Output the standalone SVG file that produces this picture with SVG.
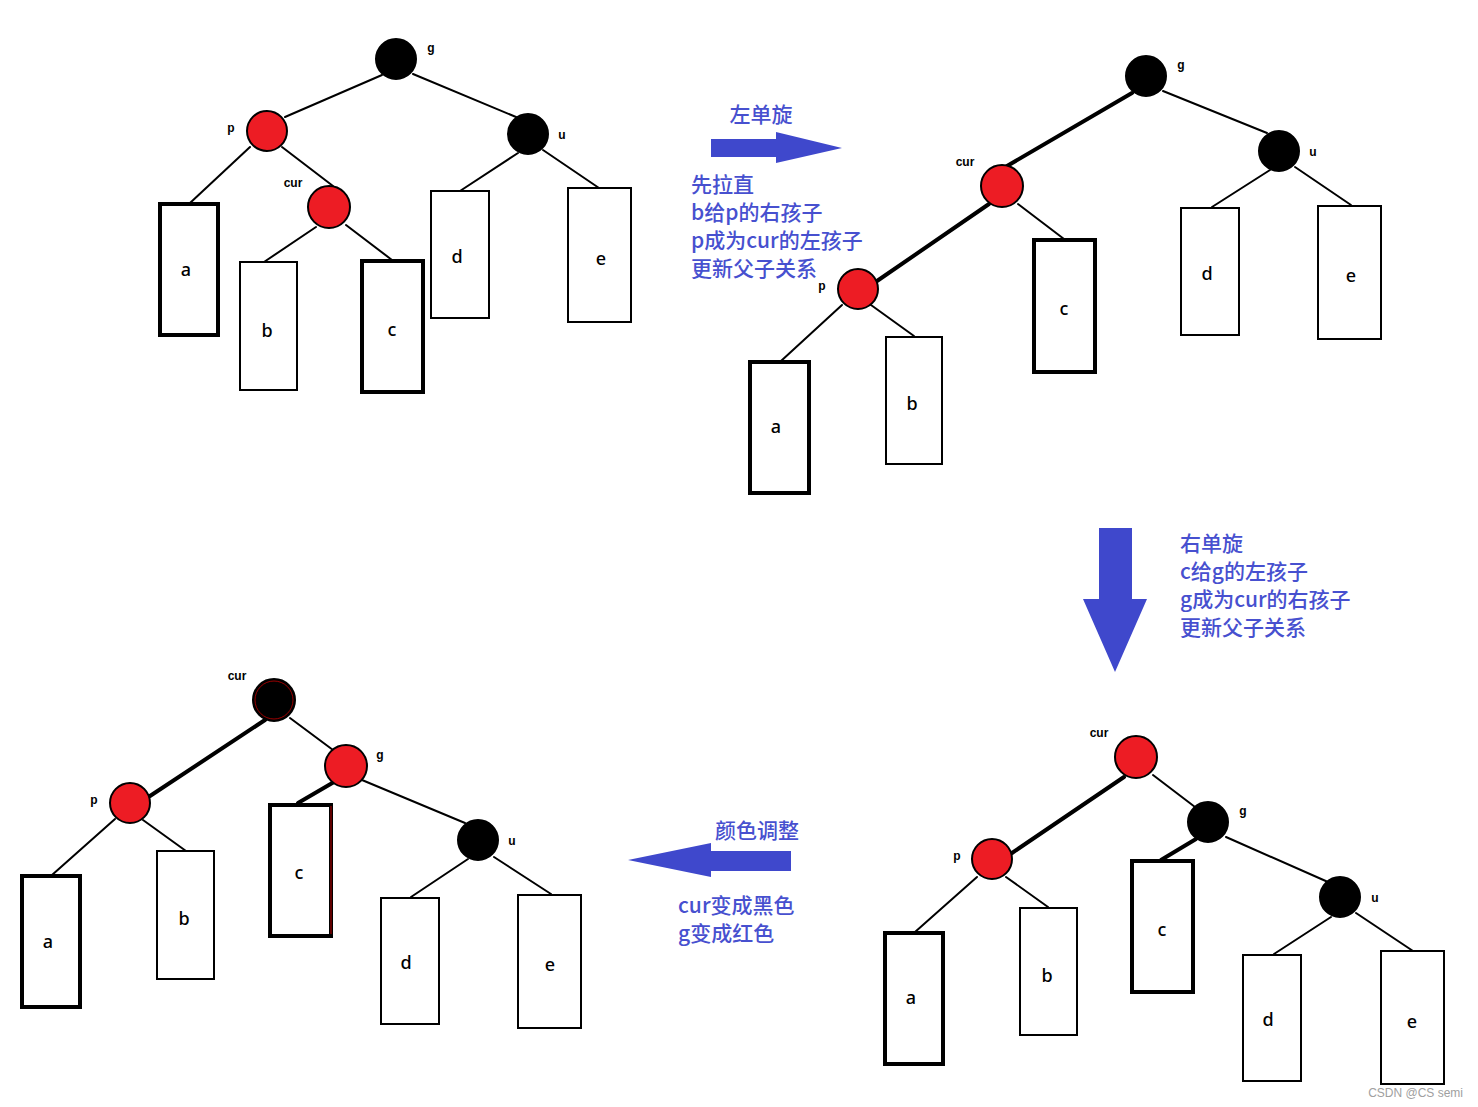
<svg xmlns="http://www.w3.org/2000/svg" width="1478" height="1107" viewBox="0 0 1478 1107">
<style>
.bg{fill:#fff}
.ln{stroke:#000;stroke-width:2;fill:none;stroke-linecap:round}
.thk{stroke:#000;stroke-width:4;fill:none;stroke-linecap:round}
.red{fill:#ed1c24;stroke:#000;stroke-width:2}
.blk{fill:#000;stroke:#000;stroke-width:2}
.bx{fill:#fff;stroke:#000;stroke-width:2}
.bxt{fill:#fff;stroke:#000;stroke-width:4}
.lt{font-family:"Noto Sans","DejaVu Sans",sans-serif;font-size:18px;font-weight:500;fill:#000;text-anchor:middle;dominant-baseline:central}
.nl{font-family:"Liberation Sans","DejaVu Sans",sans-serif;font-size:12px;font-weight:bold;fill:#000;text-anchor:middle;dominant-baseline:central}
.bt{font-family:"Noto Sans CJK SC","Noto Sans",sans-serif;font-size:21px;font-weight:500;fill:#4750cf;dominant-baseline:central}
.ar{fill:#3f48cc}
.wm{font-family:"Liberation Sans","DejaVu Sans",sans-serif;font-size:12px;fill:#a0a0a0}
</style>
<rect class="bg" x="0" y="0" width="1478" height="1107"/>

<g id="connectors">
<!-- top-left -->
<line class="ln" x1="382" y1="75" x2="285" y2="117"/>
<line class="ln" x1="413" y1="74" x2="516" y2="117"/>
<line class="ln" x1="250" y1="147" x2="190" y2="203"/>
<line class="ln" x1="282" y1="147" x2="333" y2="186"/>
<line class="ln" x1="316" y1="227" x2="264" y2="262"/>
<line class="ln" x1="346" y1="225" x2="392" y2="260"/>
<line class="ln" x1="518" y1="153" x2="460" y2="191"/>
<line class="ln" x1="543" y1="150" x2="599" y2="188"/>
<!-- top-right -->
<line class="thk" x1="1132" y1="93" x2="1007" y2="166"/>
<line class="thk" x1="989" y1="204" x2="877" y2="281"/>
<line class="ln" x1="1018" y1="204" x2="1064" y2="239"/>
<line class="ln" x1="842" y1="305" x2="781" y2="361"/>
<line class="ln" x1="871" y1="305" x2="914" y2="336"/>
<line class="ln" x1="1163" y1="91" x2="1267" y2="133"/>
<line class="ln" x1="1270" y1="170" x2="1212" y2="207"/>
<line class="ln" x1="1295" y1="167" x2="1351" y2="205"/>
<!-- bottom-left -->
<line class="thk" x1="265" y1="720" x2="150" y2="796"/>
<line class="ln" x1="290" y1="718" x2="333" y2="750"/>
<line class="thk" x1="334" y1="782" x2="298" y2="803"/>
<line class="ln" x1="362" y1="780" x2="465" y2="823"/>
<line class="ln" x1="115" y1="819" x2="52" y2="875"/>
<line class="ln" x1="143" y1="820" x2="186" y2="851"/>
<line class="ln" x1="468" y1="859" x2="411" y2="897"/>
<line class="ln" x1="494" y1="857" x2="551" y2="894"/>
<!-- bottom-right -->
<line class="thk" x1="1124" y1="777" x2="1012" y2="853"/>
<line class="ln" x1="1153" y1="775" x2="1195" y2="807"/>
<line class="thk" x1="1196" y1="839" x2="1161" y2="860"/>
<line class="ln" x1="1226" y1="837" x2="1328" y2="882"/>
<line class="ln" x1="977" y1="877" x2="915" y2="932"/>
<line class="ln" x1="1006" y1="877" x2="1048" y2="907"/>
<line class="ln" x1="1331" y1="917" x2="1274" y2="954"/>
<line class="ln" x1="1356" y1="913" x2="1413" y2="951"/>
</g>

<!-- top-left tree -->
<g id="tl-g"><circle class="blk" cx="396" cy="59" r="20"/><text class="nl" x="431" y="48">g</text></g>
<g id="tl-p"><circle class="red" cx="267" cy="131" r="20"/><text class="nl" x="231" y="128">p</text></g>
<g id="tl-u"><circle class="blk" cx="528" cy="134" r="20"/><text class="nl" x="562" y="135">u</text></g>
<g id="tl-cur"><circle class="red" cx="329" cy="207" r="21"/><text class="nl" x="293" y="183">cur</text></g>
<g id="tl-a"><rect class="bxt" x="160" y="204" width="58" height="131"/><text class="lt" x="186" y="269">a</text></g>
<g id="tl-b"><rect class="bx" x="240" y="262" width="57" height="128"/><text class="lt" x="267" y="330">b</text></g>
<g id="tl-c"><rect class="bxt" x="362" y="261" width="61" height="131"/><text class="lt" x="392" y="329">c</text></g>
<g id="tl-d"><rect class="bx" x="431" y="191" width="58" height="127"/><text class="lt" x="457" y="256">d</text></g>
<g id="tl-e"><rect class="bx" x="568" y="188" width="63" height="134"/><text class="lt" x="601" y="258">e</text></g>

<!-- top-right tree -->
<g id="tr-g"><circle class="blk" cx="1146" cy="76" r="20"/><text class="nl" x="1181" y="65">g</text></g>
<g id="tr-u"><circle class="blk" cx="1279" cy="151" r="20"/><text class="nl" x="1313" y="152">u</text></g>
<g id="tr-cur"><circle class="red" cx="1002" cy="186" r="21"/><text class="nl" x="965" y="162">cur</text></g>
<g id="tr-p"><circle class="red" cx="858" cy="289" r="20"/><text class="nl" x="822" y="286">p</text></g>
<g id="tr-a"><rect class="bxt" x="750" y="362" width="59" height="131"/><text class="lt" x="776" y="426">a</text></g>
<g id="tr-b"><rect class="bx" x="886" y="337" width="56" height="127"/><text class="lt" x="912" y="403">b</text></g>
<g id="tr-c"><rect class="bxt" x="1034" y="240" width="61" height="132"/><text class="lt" x="1064" y="308">c</text></g>
<g id="tr-d"><rect class="bx" x="1181" y="208" width="58" height="127"/><text class="lt" x="1207" y="273">d</text></g>
<g id="tr-e"><rect class="bx" x="1318" y="206" width="63" height="133"/><text class="lt" x="1351" y="275">e</text></g>

<!-- bottom-left tree -->
<g id="bl-cur"><circle class="blk" cx="274" cy="700" r="21"/><circle cx="274" cy="700" r="19" fill="none" stroke="#c00000" stroke-width="0.8"/><text class="nl" x="237" y="676">cur</text></g>
<g id="bl-g"><circle class="red" cx="346" cy="766" r="21"/><text class="nl" x="380" y="755">g</text></g>
<g id="bl-p"><circle class="red" cx="130" cy="803" r="20"/><text class="nl" x="94" y="800">p</text></g>
<g id="bl-u"><circle class="blk" cx="478" cy="840" r="20"/><text class="nl" x="512" y="841">u</text></g>
<g id="bl-a"><rect class="bxt" x="22" y="876" width="58" height="131"/><text class="lt" x="48" y="941">a</text></g>
<g id="bl-b"><rect class="bx" x="157" y="851" width="57" height="128"/><text class="lt" x="184" y="918">b</text></g>
<g id="bl-c"><rect class="bxt" x="270" y="805" width="61" height="131"/><line x1="331" y1="806" x2="331" y2="934" stroke="#c00000" stroke-width="1"/><text class="lt" x="299" y="872">c</text></g>
<g id="bl-d"><rect class="bx" x="381" y="898" width="58" height="126"/><text class="lt" x="406" y="962">d</text></g>
<g id="bl-e"><rect class="bx" x="518" y="895" width="63" height="133"/><text class="lt" x="550" y="964">e</text></g>

<!-- bottom-right tree -->
<g id="br-cur"><circle class="red" cx="1136" cy="757" r="21"/><text class="nl" x="1099" y="733">cur</text></g>
<g id="br-g"><circle class="blk" cx="1208" cy="822" r="20"/><text class="nl" x="1243" y="811">g</text></g>
<g id="br-p"><circle class="red" cx="992" cy="859" r="20"/><text class="nl" x="957" y="856">p</text></g>
<g id="br-u"><circle class="blk" cx="1340" cy="897" r="20"/><text class="nl" x="1375" y="898">u</text></g>
<g id="br-a"><rect class="bxt" x="885" y="933" width="58" height="131"/><text class="lt" x="911" y="997">a</text></g>
<g id="br-b"><rect class="bx" x="1020" y="908" width="57" height="127"/><text class="lt" x="1047" y="975">b</text></g>
<g id="br-c"><rect class="bxt" x="1132" y="861" width="61" height="131"/><text class="lt" x="1162" y="929">c</text></g>
<g id="br-d"><rect class="bx" x="1243" y="955" width="58" height="126"/><text class="lt" x="1268" y="1019">d</text></g>
<g id="br-e"><rect class="bx" x="1381" y="951" width="63" height="133"/><text class="lt" x="1412" y="1021">e</text></g>

<!-- arrows and captions -->
<g id="arrow-left-rotate">
<polygon class="ar" points="711,139 776,139 776,132 842,148 776,163 776,157 711,157"/>
<text class="bt" x="761" y="113" text-anchor="middle">左单旋</text>
<text class="bt" x="691" y="183">先拉直</text>
<text class="bt" x="691" y="211">b给p的右孩子</text>
<text class="bt" x="691" y="239">p成为cur的左孩子</text>
<text class="bt" x="691" y="267">更新父子关系</text>
</g>
<g id="arrow-right-rotate">
<polygon class="ar" points="1099,528 1132,528 1132,599 1147,599 1115,672 1083,599 1099,599"/>
<text class="bt" x="1180" y="542">右单旋</text>
<text class="bt" x="1180" y="570">c给g的左孩子</text>
<text class="bt" x="1180" y="598">g成为cur的右孩子</text>
<text class="bt" x="1180" y="626">更新父子关系</text>
</g>
<g id="arrow-recolor">
<polygon class="ar" points="791,851 711,851 711,843 628,860 711,877 711,871 791,871"/>
<text class="bt" x="757" y="829" text-anchor="middle">颜色调整</text>
<text class="bt" x="678" y="904">cur变成黑色</text>
<text class="bt" x="678" y="932">g变成红色</text>
</g>

<text class="wm" x="1463" y="1097" text-anchor="end">CSDN @CS semi</text>
</svg>
